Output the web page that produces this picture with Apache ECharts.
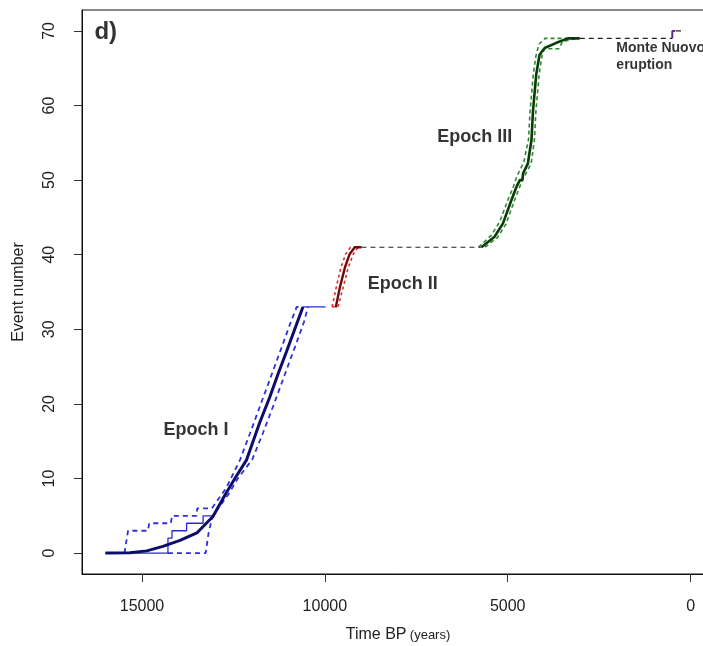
<!DOCTYPE html>
<html>
<head>
<meta charset="utf-8">
<script src="https://cdn.jsdelivr.net/npm/echarts@6/dist/echarts.min.js"></script>
<style>
  html, body { margin: 0; padding: 0; background: #fff; }
  #EventContainer { width: 703px; height: 646px; }
</style>
</head>
<body>
<div id="EventContainer"></div>
<script>
// tick values
var xTicks = [0, 5000, 10000, 15000];
var yTicks = [0, 10, 20, 30, 40, 50, 60, 70];

// Epoch I (blue)
var epoch1Steps = [[16000, 0], [14290, 0], [14290, 2], [14180, 2], [14180, 3], [13780, 3], [13780, 4], [13330, 4], [13330, 5], [13060, 5]];
var epoch1Upper = [[15480, 0], [15380, 3], [14840, 3], [14800, 4], [14210, 4], [14180, 5], [13510, 5], [13490, 6], [13090, 6], [12700, 8.7], [12320, 12.5], [12050, 16], [11750, 20], [11450, 24], [11150, 28], [10930, 31], [10770, 33], [10600, 33]];
var epoch1Lower = [[14290, 0], [13260, 0], [13170, 3], [13060, 5], [12620, 8], [12380, 10], [11990, 12.5], [11700, 16], [11390, 20], [11090, 24], [10790, 28], [10570, 31], [10460, 33]];
var epoch1Mean = [[16000, 0], [15330, 0.05], [14870, 0.3], [14430, 0.9], [13960, 1.7], [13500, 2.7], [13060, 4.9], [12730, 7.8], [12460, 10], [12140, 12.5], [11780, 17.5], [11500, 21], [11280, 24], [11050, 27], [10600, 33]];
var epoch1Tail = [[10600, 33], [9980, 33]];

// Epoch II (red)
var epoch2Steps = [[9810, 33], [9670, 33]];
var epoch2Upper = [[9800, 33], [9690, 35.6], [9560, 38.3], [9430, 40.1], [9300, 41], [9100, 41]];
var epoch2Lower = [[9640, 33], [9500, 35.6], [9360, 38.3], [9220, 40.1], [9090, 41], [9000, 41]];
var epoch2Mean = [[9700, 33], [9590, 35.6], [9450, 38.3], [9320, 40.1], [9180, 41], [9000, 41]];

// Epoch III (green)
var epoch3Upper = [[5800, 41], [5450, 42.6], [5220, 44.4], [4990, 47.4], [4840, 49.2], [4750, 50.5], [4560, 52.4], [4430, 55.5], [4390, 59.2], [4300, 64.2], [4230, 66.6], [4150, 68.2], [3980, 69], [3350, 69]];
var epoch3Lower = [[5620, 41], [5280, 42.3], [5050, 44.1], [4820, 47.2], [4680, 49], [4570, 50.3], [4360, 52.2], [4270, 55.4], [4230, 59.2], [4140, 64.2], [4060, 66.8], [3990, 67.6], [3600, 67.6], [3500, 68.6], [3100, 69]];
var epoch3Mean = [[5720, 41], [5360, 42.4], [5130, 44.2], [4900, 47.3], [4760, 49.1], [4670, 50], [4600, 50], [4580, 50.9], [4450, 52.2], [4350, 55.4], [4310, 59.2], [4220, 64.2], [4130, 66.8], [3990, 67.7], [3670, 68.4], [3350, 69], [3030, 69]];

// Monte Nuovo (purple)
var monteNuovo = [[500, 69], [500, 70], [420, 70]];

// quiet periods (black dashed)
var gap1 = [[9000, 41], [5720, 41]];
var gap2 = [[3030, 69], [500, 69]];
var gap3 = [[400, 70], [150, 70]];

// text annotations [time, event, text]
var notes = [
    [13525, 16.5, 'Epoch I'],
    [7870, 36.1, 'Epoch II'],
    [5900, 55.8, 'Epoch III']
];
var notesLeft = [
    [2030, 66.6, 'Monte Nuovo\neruption']
];
var panelTag = [[16300, 69.8, 'd)']];

function lineSeries(name, data, color, width, dash) {
    return {
        name: name,
        type: 'line',
        data: data,
        showSymbol: false,
        silent: true,
        lineStyle: {
            color: color,
            width: width,
            type: dash ? dash : 'solid'
        },
        z: dash ? 2 : 3
    };
}

function textSeries(name, data, fontSize, position) {
    return {
        name: name,
        type: 'scatter',
        symbolSize: 0,
        silent: true,
        data: data.map(function (d) { return { value: [d[0], d[1]], name: d[2] }; }),
        label: {
            show: true,
            position: position,
            distance: 0,
            formatter: '{b}',
            fontFamily: 'Liberation Sans',
            fontWeight: 'bold',
            fontSize: fontSize,
            lineHeight: fontSize + 3,
            color: '#000'
        },
        z: 5
    };
}

function Set_Event_echarts() {
    var EventContainer = document.getElementById('EventContainer');
    var myChart_Event = echarts.init(EventContainer, null, {
        renderer: 'canvas',
        useDirtyRect: false
    });

    var option = {
        animation: false,
        grid: {
            left: 82,
            top: 10,
            right: -11,
            bottom: 72,
            containLabel: false,
            outerBoundsMode: 'none',
            show: true,
            borderColor: '#111',
            borderWidth: 1
        },
        xAxis: {
            type: 'value',
            inverse: true,
            min: -640,
            max: 16640,
            name: '{a|Time BP} {b|(years)}',
            nameLocation: 'middle',
            nameGap: 53,
            nameTextStyle: {
                rich: {
                    a: { fontSize: 16, fontFamily: 'Liberation Sans', color: '#222' },
                    b: { fontSize: 13, fontFamily: 'Liberation Sans', color: '#222' }
                }
            },
            axisLine: { show: true, onZero: false, lineStyle: { color: '#111', width: 1 } },
            axisTick: { show: true, customValues: xTicks, length: 8, lineStyle: { color: '#333' } },
            axisLabel: {
                customValues: xTicks,
                formatter: function (v) { return String(v); },
                fontSize: 16,
                fontFamily: 'Liberation Sans',
                color: '#222',
                margin: 25
            },
            splitLine: { show: false }
        },
        yAxis: {
            type: 'value',
            min: -2.8,
            max: 72.8,
            name: 'Event number',
            nameLocation: 'middle',
            nameGap: 55,
            nameTextStyle: { fontSize: 16, fontFamily: 'Liberation Sans', color: '#222' },
            axisLine: { show: true, onZero: false, lineStyle: { color: '#111', width: 1 } },
            axisTick: { show: true, customValues: yTicks, length: 8, lineStyle: { color: '#333' } },
            axisLabel: {
                customValues: yTicks,
                formatter: function (v) { return String(v); },
                rotate: 90,
                fontSize: 16,
                fontFamily: 'Liberation Sans',
                color: '#222',
                margin: 24
            },
            splitLine: { show: false }
        },
        series: [
            lineSeries('Epoch I steps', epoch1Steps, '#2a2ad8', 1.3, null),
            lineSeries('Epoch I upper', epoch1Upper, '#2f2fe0', 1.8, [5, 4]),
            lineSeries('Epoch I lower', epoch1Lower, '#2f2fe0', 1.8, [5, 4]),
            lineSeries('Epoch I tail', epoch1Tail, '#2a2ad8', 1.3, null),
            lineSeries('Epoch I', epoch1Mean, '#0d0d6b', 3, null),
            lineSeries('Epoch II steps', epoch2Steps, '#d42020', 1.3, null),
            lineSeries('Epoch II upper', epoch2Upper, '#e02a2a', 1.6, [3, 3]),
            lineSeries('Epoch II lower', epoch2Lower, '#e02a2a', 1.6, [3, 3]),
            lineSeries('Epoch II', epoch2Mean, '#6b0c0c', 2.4, null),
            lineSeries('Epoch III upper', epoch3Upper, '#2c8a2c', 1.6, [4, 3]),
            lineSeries('Epoch III lower', epoch3Lower, '#2c8a2c', 1.6, [4, 3]),
            lineSeries('Epoch III', epoch3Mean, '#0b3a0b', 2.6, null),
            lineSeries('Monte Nuovo', monteNuovo, '#5a2d8a', 2, null),
            lineSeries('gap 1', gap1, '#222', 1.2, [5, 4]),
            lineSeries('gap 2', gap2, '#222', 1.2, [5, 4]),
            lineSeries('gap 3', gap3, '#222', 1.2, [5, 4]),
            textSeries('notes', notes, 18, 'inside'),
            textSeries('notes left', notesLeft, 14, 'right'),
            textSeries('panel', panelTag, 24, 'right')
        ]
    };

    if (option && typeof option === 'object') {
        myChart_Event.setOption(option);
    }

    window.addEventListener('resize', myChart_Event.resize);
}

Set_Event_echarts();
</script>
</body>
</html>
